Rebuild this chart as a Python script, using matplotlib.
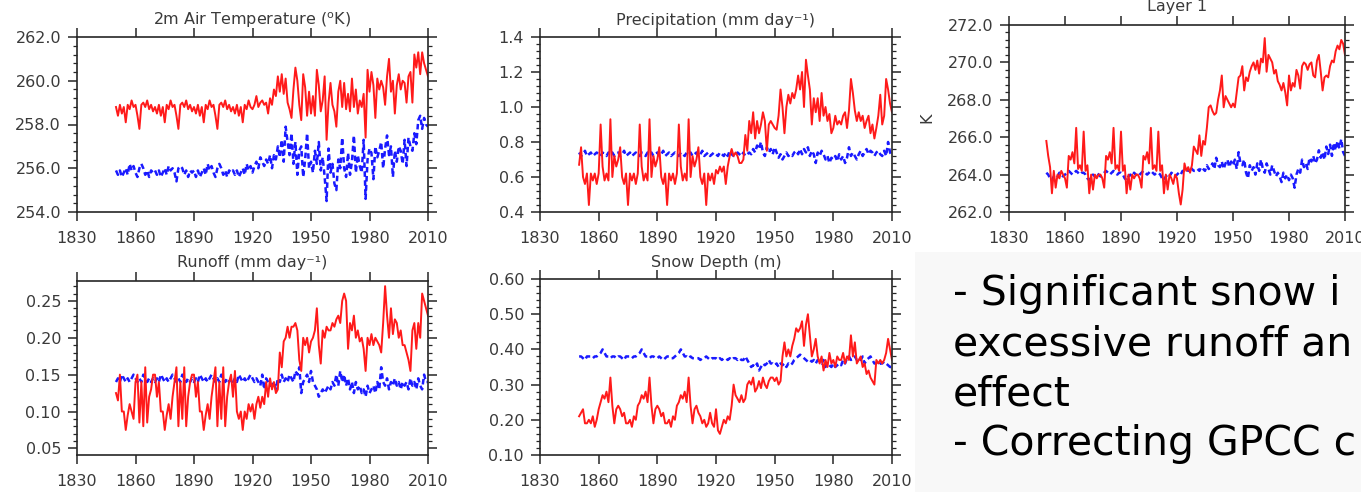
import numpy as np
import matplotlib
matplotlib.use("Agg")
import matplotlib.pyplot as plt
from matplotlib.ticker import MultipleLocator, FormatStrFormatter
from matplotlib.patches import Rectangle

plt.rcParams['font.family'] = ['DejaVu Sans']
plt.rcParams['mathtext.fontset'] = 'dejavusans'

years = np.arange(1850, 2011)

# 2m air temperature (K)
tas_red = [
    258.8, 258.4, 258.9, 258.5, 258.8, 258.1, 258.9, 258.7, 259.1, 258.8,
    258.9, 258.4, 257.8, 258.9, 259.0, 258.8, 259.1, 258.7, 258.9, 258.6,
    258.8, 258.5, 258.9, 258.4, 258.8, 258.1, 258.9, 258.7, 259.1, 258.8,
    258.9, 258.4, 257.8, 258.9, 259.0, 258.8, 259.1, 258.7, 258.9, 258.6,
    258.8, 258.5, 258.9, 258.4, 258.8, 258.1, 258.9, 258.7, 259.1, 258.8,
    258.9, 258.4, 257.8, 258.9, 259.0, 258.8, 259.1, 258.7, 258.9, 258.6,
    258.8, 258.5, 258.9, 258.4, 258.8, 258.1, 258.9, 258.7, 259.1, 258.8,
    258.7, 258.9, 259.3, 258.8, 259.0, 259.1, 258.9, 259.0, 258.5, 259.2,
    258.9, 259.6, 259.3, 260.2, 259.5, 260.3, 259.4, 260.1, 259.0, 258.7,
    258.3, 259.6, 260.6, 260.0, 258.9, 258.2, 260.3, 259.7, 258.4, 259.5,
    258.5, 259.3, 258.4, 260.5, 259.8, 258.6, 259.1, 260.2, 257.3, 259.0,
    259.9, 258.9, 258.6, 257.9, 259.5, 260.0, 258.8, 259.9, 258.7, 259.4,
    258.6, 260.1, 258.8, 259.6, 258.5, 259.1, 258.8, 259.4, 257.4, 260.5,
    259.5, 260.4, 259.8, 258.3, 260.1, 259.6, 260.0, 259.7, 258.9, 260.2,
    261.0, 259.5, 260.0, 258.5, 259.8, 260.3, 259.6, 260.0, 259.9, 259.0,
    260.2, 260.4, 259.0, 261.2, 260.6, 261.3, 260.3, 261.3, 260.8, 260.5,
    260.2]
tas_blue = [
    255.9, 255.7, 255.9, 255.6, 255.8, 256.0, 255.7, 256.2, 255.9, 256.1,
    255.8, 255.6, 256.0, 256.2, 256.0, 255.7, 255.9, 255.6, 255.9, 255.8,
    255.9, 255.7, 255.9, 255.6, 255.8, 256.0, 255.7, 256.1, 255.9, 256.0,
    255.8, 255.4, 256.0, 256.1, 256.0, 255.7, 255.9, 255.6, 255.9, 255.8,
    255.9, 255.6, 255.9, 255.6, 255.8, 256.0, 255.7, 256.2, 255.9, 256.1,
    255.8, 255.6, 256.0, 256.2, 256.0, 255.7, 255.9, 255.6, 255.9, 255.8,
    255.9, 255.7, 255.9, 255.6, 255.8, 256.0, 255.7, 256.2, 255.9, 256.1,
    255.8, 256.1, 256.3, 256.0, 256.5, 256.3, 256.1, 256.4, 256.2, 256.6,
    256.0, 256.6, 256.4, 257.0, 256.5, 257.3, 256.3, 257.9, 257.2, 256.6,
    257.6, 256.2, 257.2, 255.7, 256.8, 257.0, 255.6, 256.4, 257.6, 256.0,
    256.3, 255.8, 256.8, 256.2, 257.2, 255.9, 256.5, 255.6, 254.5, 256.9,
    255.8, 256.2, 255.3, 255.0, 256.4, 256.0, 257.4, 256.0, 255.6, 256.7,
    255.7, 256.3, 257.5, 255.8, 256.6, 256.1, 255.8, 257.3, 254.6, 256.4,
    256.9, 256.7, 255.5, 257.0, 256.5, 256.8, 257.2, 256.0, 256.9, 257.5,
    256.6, 257.0, 255.6, 256.8, 256.3, 257.0, 256.8, 256.2, 257.3, 256.1,
    257.4, 257.0, 256.8, 257.6, 257.1, 258.2, 258.4, 257.8, 258.3, 258.0,
    257.9]

# precipitation (mm/day)
pr_red = [
    0.67, 0.77, 0.60, 0.56, 0.62, 0.44, 0.62, 0.58, 0.62, 0.56,
    0.62, 0.90, 0.66, 0.58, 0.62, 0.58, 0.93, 0.60, 0.72, 0.66,
    0.70, 0.77, 0.60, 0.56, 0.62, 0.44, 0.62, 0.58, 0.62, 0.56,
    0.62, 0.90, 0.66, 0.58, 0.62, 0.58, 0.93, 0.60, 0.72, 0.66,
    0.70, 0.77, 0.60, 0.56, 0.62, 0.44, 0.62, 0.58, 0.62, 0.56,
    0.62, 0.90, 0.66, 0.58, 0.62, 0.58, 0.93, 0.60, 0.72, 0.66,
    0.70, 0.77, 0.60, 0.56, 0.62, 0.44, 0.62, 0.58, 0.62, 0.56,
    0.64, 0.62, 0.66, 0.63, 0.66, 0.56, 0.66, 0.72, 0.76, 0.72,
    0.74, 0.72, 0.68, 0.68, 0.70, 0.84, 0.75, 0.92, 0.85, 0.97,
    0.82, 0.92, 0.85, 0.90, 0.97, 0.92, 0.75, 0.90, 0.92, 0.90,
    0.88, 0.87, 0.95, 1.10, 1.00, 0.85, 1.00, 1.07, 1.02, 1.08,
    1.05, 1.10, 1.18, 1.10, 1.20, 1.00, 1.27, 1.18, 1.10, 0.90,
    1.05, 0.97, 1.05, 0.92, 1.08, 0.95, 1.00, 0.92, 0.96, 0.85,
    0.88, 0.95, 0.90, 0.92, 0.90, 0.95, 0.97, 0.88, 0.98, 1.16,
    1.08, 0.98, 0.92, 0.97, 0.92, 0.95, 0.88, 0.92, 0.95, 0.85,
    0.90, 0.82, 0.88, 0.95, 1.07, 0.90, 0.95, 1.16, 1.10, 1.02,
    0.97]
pr_blue = [
    0.74, 0.72, 0.73, 0.75, 0.72, 0.73, 0.74, 0.72, 0.73, 0.74,
    0.73, 0.72, 0.74, 0.73, 0.72, 0.74, 0.73, 0.74, 0.72, 0.73,
    0.74, 0.72, 0.73, 0.75, 0.72, 0.73, 0.74, 0.72, 0.73, 0.74,
    0.73, 0.72, 0.74, 0.73, 0.72, 0.74, 0.73, 0.74, 0.72, 0.73,
    0.74, 0.72, 0.73, 0.75, 0.72, 0.73, 0.74, 0.72, 0.73, 0.74,
    0.73, 0.72, 0.74, 0.73, 0.72, 0.74, 0.73, 0.74, 0.72, 0.73,
    0.74, 0.72, 0.73, 0.75, 0.72, 0.73, 0.74, 0.72, 0.73, 0.74,
    0.73, 0.72, 0.74, 0.73, 0.72, 0.74, 0.72, 0.75, 0.73, 0.72,
    0.72, 0.74, 0.73, 0.72, 0.74, 0.72, 0.73, 0.74, 0.73, 0.76,
    0.74, 0.78, 0.76, 0.80, 0.74, 0.72, 0.77, 0.74, 0.76, 0.73,
    0.77, 0.74, 0.71, 0.73, 0.70, 0.72, 0.74, 0.72, 0.73, 0.72,
    0.74, 0.75, 0.73, 0.76, 0.73, 0.76, 0.74, 0.77, 0.72, 0.75,
    0.73, 0.68, 0.74, 0.72, 0.75, 0.73, 0.70, 0.72, 0.68, 0.71,
    0.70, 0.72, 0.69, 0.73, 0.70, 0.72, 0.68, 0.71, 0.77, 0.72,
    0.74, 0.72, 0.70, 0.73, 0.75, 0.72, 0.74, 0.76, 0.73, 0.75,
    0.74, 0.72, 0.74, 0.75, 0.73, 0.72, 0.75, 0.72, 0.80, 0.74,
    0.72]

# soil temperature, layer 1 (K)
tsl_red = [
    265.8, 265.0, 264.4, 263.0, 264.2, 263.3, 264.0, 263.8, 264.2, 264.0,
    263.8, 263.3, 265.0, 264.8, 265.2, 264.6, 266.5, 264.3, 264.5, 264.2,
    266.3, 264.2, 264.5, 263.0, 264.0, 263.2, 264.0, 263.8, 264.0, 264.0,
    263.8, 263.3, 265.0, 264.8, 265.2, 264.6, 266.5, 264.3, 264.5, 264.2,
    266.3, 264.2, 264.5, 263.0, 264.0, 263.2, 264.0, 263.8, 264.0, 264.0,
    263.8, 263.3, 265.0, 264.8, 265.2, 264.6, 266.5, 264.3, 264.5, 264.2,
    266.3, 264.2, 264.5, 263.0, 264.0, 263.2, 264.0, 263.8, 263.5, 264.0,
    263.8, 263.0, 262.4, 263.2, 264.6, 264.2, 264.4, 264.1, 264.5, 265.5,
    265.3, 265.1, 266.1, 265.0, 265.8, 265.6, 266.5, 267.6, 267.7, 267.4,
    267.2, 267.3, 268.0, 268.5, 269.3, 267.6, 268.2, 268.0, 267.8, 267.6,
    267.8, 267.6, 268.4, 269.2, 269.3, 269.8, 268.5, 269.2, 269.0, 269.5,
    269.8, 270.0, 269.6, 270.1, 269.4, 270.2, 270.0, 271.3, 269.5, 270.4,
    270.2, 270.0, 269.4, 269.6, 269.0, 268.8, 268.5, 268.9, 268.4, 267.7,
    269.3, 268.5, 268.9, 268.7, 269.6, 269.3, 268.6, 269.8, 270.0, 269.9,
    269.6, 269.9, 270.0, 269.3, 269.2, 270.1, 270.4, 269.5, 268.5, 269.2,
    269.3, 269.2, 269.8, 270.1, 270.0, 270.6, 270.9, 270.7, 271.2, 271.0,
    270.4]
tsl_blue = [
    264.1, 264.0, 263.8, 263.7, 263.9, 264.0, 263.9, 264.1, 264.0, 263.9,
    264.0, 264.1, 264.2, 264.1, 264.0, 264.1, 264.2, 264.1, 264.0, 264.1,
    264.1, 264.0, 263.8, 263.7, 263.9, 264.0, 263.9, 264.1, 264.0, 263.9,
    264.0, 264.1, 264.2, 264.1, 264.0, 264.1, 264.2, 264.1, 264.0, 264.1,
    264.1, 264.0, 263.8, 263.7, 263.9, 264.0, 263.9, 264.1, 264.0, 263.9,
    264.0, 264.1, 264.2, 264.1, 264.0, 264.1, 264.2, 264.1, 264.0, 264.1,
    264.1, 264.0, 263.8, 263.7, 263.9, 264.0, 263.9, 264.1, 264.0, 263.9,
    264.0, 264.1, 264.0, 264.2, 264.1, 264.3, 264.2, 264.4, 264.3, 264.2,
    264.2, 264.3, 264.2, 264.4, 264.3, 264.2, 264.5, 264.3, 264.4, 264.6,
    264.3, 264.9, 264.5, 264.4, 264.7, 264.3, 264.6, 264.8, 264.4, 264.7,
    264.5, 264.8, 264.3, 265.2, 264.6, 264.5, 264.8, 264.1, 263.8, 264.5,
    264.2, 264.4, 264.0, 264.6, 264.2, 264.8, 264.3, 264.1, 264.6, 264.3,
    264.0, 264.5, 264.2, 263.9, 264.1, 263.9, 263.6, 264.1, 263.8, 264.0,
    263.7, 264.0, 263.8, 263.3, 264.0, 264.3, 264.1, 264.8, 264.4, 264.6,
    264.3, 264.9, 264.7, 265.0, 264.6, 264.8, 265.3, 264.9, 265.2, 264.8,
    265.5, 265.1, 265.6, 265.0, 265.7, 265.3, 265.8, 265.4, 265.9, 265.2,
    265.0]

# runoff (mm/day)
mrro_red = [
    0.125, 0.115, 0.150, 0.100, 0.100, 0.075, 0.095, 0.110, 0.100, 0.090,
    0.140, 0.150, 0.085, 0.140, 0.080, 0.160, 0.085, 0.120, 0.130, 0.150,
    0.150, 0.120, 0.140, 0.100, 0.100, 0.075, 0.095, 0.110, 0.090, 0.120,
    0.140, 0.160, 0.080, 0.140, 0.090, 0.160, 0.080, 0.120, 0.140, 0.150,
    0.150, 0.120, 0.140, 0.100, 0.100, 0.075, 0.095, 0.110, 0.090, 0.120,
    0.140, 0.160, 0.080, 0.140, 0.090, 0.160, 0.080, 0.120, 0.140, 0.150,
    0.120, 0.155, 0.100, 0.090, 0.100, 0.075, 0.100, 0.090, 0.110, 0.100,
    0.110, 0.090, 0.110, 0.120, 0.105, 0.120, 0.110, 0.140, 0.120, 0.145,
    0.130, 0.140, 0.125, 0.130, 0.180, 0.160, 0.195, 0.200, 0.215, 0.200,
    0.215, 0.215, 0.220, 0.210, 0.170, 0.155, 0.200, 0.190, 0.200, 0.180,
    0.195, 0.200, 0.210, 0.240, 0.190, 0.165, 0.210, 0.200, 0.215, 0.210,
    0.210, 0.220, 0.215, 0.225, 0.230, 0.220, 0.250, 0.260, 0.250, 0.185,
    0.220, 0.210, 0.230, 0.200, 0.210, 0.195, 0.200, 0.185, 0.155, 0.200,
    0.190, 0.205, 0.190, 0.200, 0.195, 0.190, 0.180, 0.220, 0.270, 0.230,
    0.200, 0.240, 0.205, 0.225, 0.220, 0.200, 0.210, 0.190, 0.190, 0.180,
    0.170, 0.155, 0.210, 0.220, 0.185, 0.220, 0.200, 0.260, 0.250, 0.240,
    0.230]
mrro_blue = [
    0.140, 0.145, 0.140, 0.150, 0.145, 0.140, 0.145, 0.140, 0.145, 0.150,
    0.145, 0.140, 0.145, 0.140, 0.150, 0.145, 0.140, 0.145, 0.140, 0.145,
    0.140, 0.145, 0.140, 0.150, 0.145, 0.140, 0.145, 0.140, 0.145, 0.150,
    0.145, 0.140, 0.145, 0.140, 0.150, 0.145, 0.140, 0.145, 0.140, 0.145,
    0.140, 0.145, 0.140, 0.150, 0.145, 0.140, 0.145, 0.140, 0.145, 0.150,
    0.145, 0.140, 0.145, 0.140, 0.150, 0.145, 0.140, 0.145, 0.140, 0.145,
    0.140, 0.145, 0.140, 0.150, 0.145, 0.140, 0.145, 0.140, 0.145, 0.150,
    0.145, 0.140, 0.145, 0.140, 0.135, 0.150, 0.130, 0.145, 0.140, 0.135,
    0.135, 0.140, 0.130, 0.145, 0.140, 0.150, 0.140, 0.145, 0.140, 0.150,
    0.145, 0.140, 0.155, 0.150, 0.160, 0.125, 0.140, 0.145, 0.150, 0.140,
    0.155, 0.140, 0.135, 0.130, 0.120, 0.125, 0.130, 0.125, 0.130, 0.135,
    0.130, 0.140, 0.135, 0.150, 0.135, 0.155, 0.140, 0.150, 0.135, 0.145,
    0.130, 0.140, 0.125, 0.140, 0.130, 0.135, 0.125, 0.130, 0.120, 0.135,
    0.125, 0.130, 0.135, 0.125, 0.140, 0.130, 0.160, 0.140, 0.135, 0.145,
    0.130, 0.140, 0.135, 0.145, 0.135, 0.140, 0.130, 0.140, 0.135, 0.140,
    0.130, 0.145, 0.135, 0.140, 0.130, 0.145, 0.135, 0.130, 0.150, 0.140,
    0.140]

# snow depth (m)
snd_red = [
    0.21, 0.22, 0.23, 0.19, 0.19, 0.20, 0.19, 0.21, 0.18, 0.20,
    0.23, 0.25, 0.27, 0.26, 0.28, 0.25, 0.32, 0.24, 0.19, 0.23,
    0.24, 0.23, 0.21, 0.22, 0.19, 0.19, 0.20, 0.18, 0.21, 0.20,
    0.24, 0.25, 0.27, 0.26, 0.28, 0.25, 0.32, 0.24, 0.19, 0.23,
    0.24, 0.23, 0.21, 0.22, 0.19, 0.19, 0.20, 0.18, 0.21, 0.20,
    0.24, 0.25, 0.27, 0.26, 0.28, 0.25, 0.32, 0.24, 0.19, 0.23,
    0.24, 0.22, 0.21, 0.19, 0.20, 0.18, 0.19, 0.22, 0.19, 0.18,
    0.23, 0.17, 0.16, 0.18, 0.20, 0.19, 0.21, 0.20, 0.24, 0.30,
    0.27, 0.26, 0.25, 0.27, 0.25, 0.26, 0.30, 0.31, 0.30, 0.32,
    0.28, 0.29, 0.31, 0.29, 0.32, 0.30, 0.29, 0.31, 0.32, 0.32,
    0.31, 0.32, 0.30, 0.31, 0.38, 0.42, 0.38, 0.40, 0.38, 0.41,
    0.43, 0.46, 0.45, 0.46, 0.48, 0.41, 0.47, 0.50, 0.44, 0.38,
    0.40, 0.43, 0.38, 0.36, 0.38, 0.34, 0.37, 0.35, 0.39, 0.36,
    0.37, 0.35, 0.38, 0.37, 0.37, 0.39, 0.36, 0.38, 0.37, 0.44,
    0.38, 0.42, 0.36, 0.37, 0.38, 0.35, 0.36, 0.33, 0.34, 0.32,
    0.31, 0.30, 0.37, 0.36, 0.37, 0.36, 0.37, 0.39, 0.43, 0.40,
    0.37]
snd_blue = [
    0.380, 0.380, 0.375, 0.370, 0.380, 0.380, 0.380, 0.375, 0.380, 0.380,
    0.385, 0.390, 0.400, 0.390, 0.380, 0.380, 0.375, 0.380, 0.380, 0.375,
    0.380, 0.380, 0.375, 0.370, 0.380, 0.380, 0.380, 0.375, 0.380, 0.380,
    0.385, 0.390, 0.400, 0.390, 0.380, 0.380, 0.375, 0.380, 0.380, 0.375,
    0.375, 0.380, 0.375, 0.370, 0.375, 0.380, 0.380, 0.375, 0.375, 0.380,
    0.385, 0.390, 0.400, 0.390, 0.380, 0.380, 0.375, 0.380, 0.375, 0.375,
    0.375, 0.375, 0.370, 0.375, 0.375, 0.380, 0.375, 0.370, 0.375, 0.375,
    0.375, 0.370, 0.375, 0.370, 0.375, 0.375, 0.370, 0.375, 0.370, 0.375,
    0.375, 0.370, 0.375, 0.370, 0.370, 0.380, 0.370, 0.360, 0.350, 0.355,
    0.350, 0.360, 0.340, 0.350, 0.360, 0.355, 0.360, 0.370, 0.360, 0.360,
    0.355, 0.360, 0.350, 0.360, 0.355, 0.360, 0.350, 0.360, 0.355, 0.360,
    0.370, 0.375, 0.380, 0.385, 0.380, 0.375, 0.370, 0.365, 0.370, 0.365,
    0.370, 0.360, 0.370, 0.365, 0.360, 0.370, 0.350, 0.360, 0.355, 0.350,
    0.360, 0.350, 0.355, 0.360, 0.355, 0.370, 0.360, 0.375, 0.380, 0.370,
    0.375, 0.380, 0.370, 0.375, 0.370, 0.380, 0.360, 0.370, 0.375, 0.380,
    0.370, 0.360, 0.360, 0.355, 0.360, 0.360, 0.365, 0.360, 0.355, 0.350,
    0.350]

xticks = [1830, 1860, 1890, 1920, 1950, 1980, 2010]

W, H = 1361, 492
fig = plt.figure(figsize=(W / 100, H / 100), dpi=100)
fig.patch.set_facecolor('white')

# light grey slide text area in the lower right
fig.patches.append(Rectangle((915 / W, 0), 1 - 915 / W, 1 - 252 / H,
                             transform=fig.transFigure, facecolor='#f8f8f8',
                             edgecolor='none', zorder=0))


def px_axes(left, top, right, bottom):
    return fig.add_axes([left / W, 1 - bottom / H, (right - left) / W, (bottom - top) / H])


panels = [
    # (box in px, title, red, blue, ylim, major, minor, fmt, title pad)
    ((77, 37, 428, 212), r'2m Air Temperature ($^{\rm o}$K)', tas_red, tas_blue,
     (254, 262), 2.0, 0.4, '%.1f', 9),
    ((540, 37, 892, 212), 'Precipitation (mm day⁻¹)', pr_red, pr_blue,
     (0.4, 1.4), 0.2, 0.04, '%.1f', 9),
    ((1009, 25, 1345, 212), 'Layer 1', tsl_red, tsl_blue,
     (262, 272), 2.0, 0.4, '%.1f', 10),
    ((77, 281, 428, 455), 'Runoff (mm day⁻¹)', mrro_red, mrro_blue,
     (0.041, 0.277), 0.05, 0.01, '%.2f', 10),
    ((540, 279, 892, 455), 'Snow Depth (m)', snd_red, snd_blue,
     (0.1, 0.6), 0.1, 0.02, '%.2f', 9),
]

axcol = '#262626'
labcol = '#3a3a3a'

for box, title, red, blue, ylim, major, minor, fmt, tpad in panels:
    ax = px_axes(*box)
    ax.plot(years, blue, color='#1a1aff', lw=1.8, dashes=(2.2, 1.4))
    ax.plot(years, red, color='#ff1a1a', lw=1.4)
    ax.set_xlim(1830, 2010)
    ax.set_ylim(*ylim)
    ax.set_xticks(xticks)
    ax.yaxis.set_major_locator(MultipleLocator(major))
    ax.yaxis.set_minor_locator(MultipleLocator(minor))
    ax.yaxis.set_major_formatter(FormatStrFormatter(fmt))
    ax.tick_params(which='both', direction='out', top=True, right=True,
                   color=axcol, labelsize=11.5, labelcolor=labcol)
    ax.tick_params(which='major', length=6.5, width=1.1)
    ax.tick_params(which='minor', length=3, width=0.9)
    ax.tick_params(axis='x', pad=7)
    ax.tick_params(axis='y', pad=5)
    for s in ax.spines.values():
        s.set_color(axcol)
        s.set_linewidth(1.2)
    ax.set_title(title, fontsize=11.5, color=labcol, pad=tpad)

fig.text(927 / W, 1 - 118 / H, 'K', rotation=90, ha='center', va='center',
         fontsize=11.5, color=labcol)

lines = ['- Significant snow i', 'excessive runoff an', 'effect', '- Correcting GPCC c']
baselines = [305, 355, 405, 455]
for txt, yb in zip(lines, baselines):
    fig.text(953 / W, 1 - yb / H, txt, fontsize=29.5, color='black', va='baseline')

fig.savefig('out.png', dpi=100)
